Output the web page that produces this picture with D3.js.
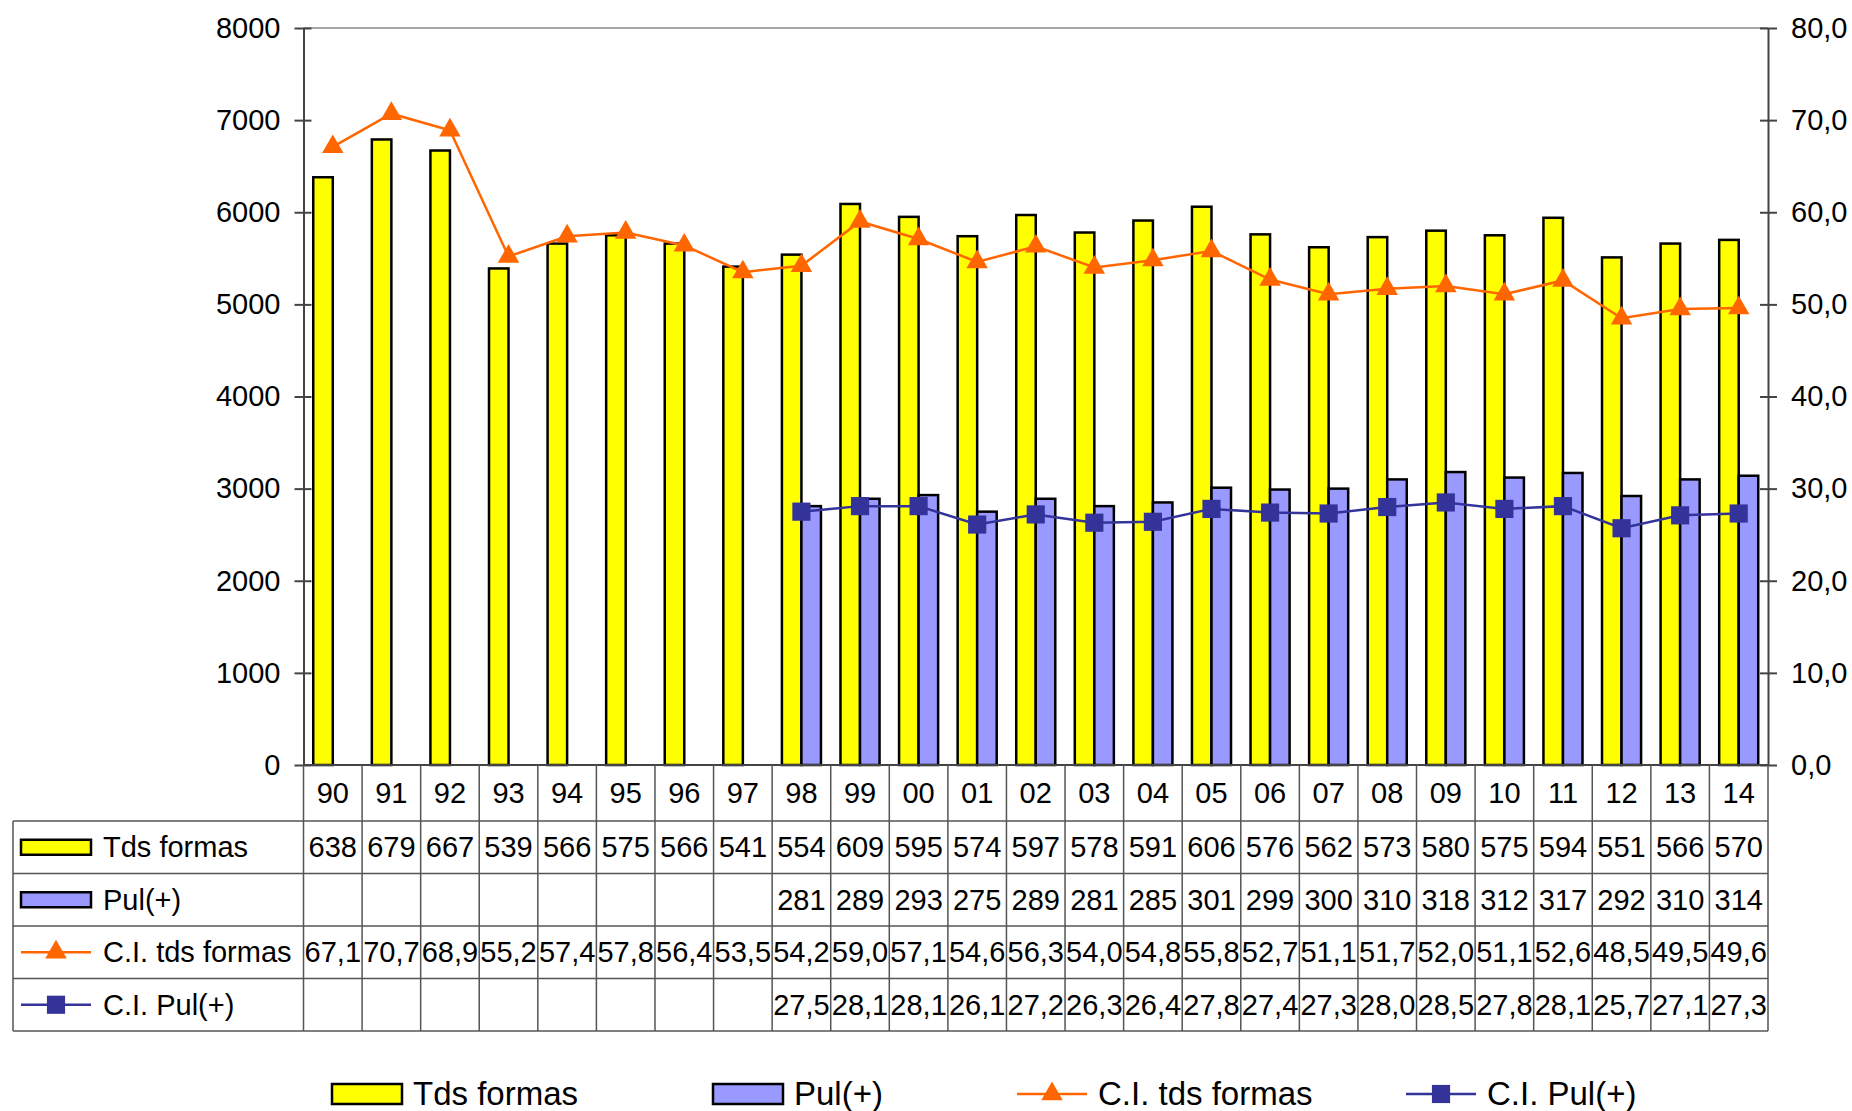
<!DOCTYPE html>
<html>
<head>
<meta charset="utf-8">
<script src="https://cdn.jsdelivr.net/npm/d3@7"></script>
<style>
  body { margin: 0; background: #fff; }
  text { font-family: "Liberation Sans", Arial, sans-serif; fill: #000; }
</style>
</head>
<body>
<div id="app"></div>
<script>
(function (d3) {
  'use strict'

  const years = ['90','91','92','93','94','95','96','97','98','99','00','01','02','03','04','05','06','07','08','09','10','11','12','13','14']

  // bar values (table shows the first 3 digits)
  const tdsFormas = [6380,6790,6670,5390,5660,5750,5660,5410,5540,6090,5950,5740,5970,5780,5910,6060,5760,5620,5730,5800,5750,5940,5510,5660,5700]
  const pul = [null,null,null,null,null,null,null,null,2810,2890,2930,2750,2890,2810,2850,3010,2990,3000,3100,3180,3120,3170,2920,3100,3140]

  const ciTds = [67.1,70.7,68.9,55.2,57.4,57.8,56.4,53.5,54.2,59.0,57.1,54.6,56.3,54.0,54.8,55.8,52.7,51.1,51.7,52.0,51.1,52.6,48.5,49.5,49.6]
  const ciPul = [null,null,null,null,null,null,null,null,27.5,28.1,28.1,26.1,27.2,26.3,26.4,27.8,27.4,27.3,28.0,28.5,27.8,28.1,25.7,27.1,27.3]

  const leftTicks = [0,1000,2000,3000,4000,5000,6000,7000,8000]
  const rightTicks = [0,10,20,30,40,50,60,70,80]

  const W = 1852, H = 1111
  const left = 303.5, right = 1768, top = 28, zero = 765
  const tableLeft = 13, rowTop = 821, rowH = 52.5
  const fs = '29px'

  const yellow = '#ffff00', lilac = '#9999ff', orange = '#ff6600', navy = '#333399'
  const gridCol = '#555'

  const svg = d3.select('#app').append('svg')
    .attr('width', W)
    .attr('height', H)

  const x = d3.scaleBand().domain(years).range([left, right])
  const xs = d3.scaleBand().domain(['tds', 'pul']).range([0, x.bandwidth()]).paddingOuter(0.5)
  const yL = d3.scaleLinear().domain([0, 8000]).range([zero, top])
  const yR = d3.scaleLinear().domain([0, 80]).range([zero, top])
  const comma = v => d3.format('.1f')(v).replace('.', ',')

  // plot frame top
  svg.append('line')
    .attr('x1', left).attr('x2', right).attr('y1', top).attr('y2', top)
    .attr('stroke', '#888').attr('stroke-width', 1.5)

  // bars
  const bars = svg.append('g')
  bars.selectAll('rect.tds')
    .data(tdsFormas)
    .enter()
    .append('rect')
    .attr('x', (d, i) => x(years[i]) + xs('tds'))
    .attr('y', d => yL(d))
    .attr('width', xs.bandwidth())
    .attr('height', d => zero - yL(d))
    .attr('fill', yellow)
    .attr('stroke', '#000')
    .attr('stroke-width', 2.5)

  bars.selectAll('rect.pul')
    .data(pul.map((v, i) => ({v: v, i: i})).filter(d => d.v != null))
    .enter()
    .append('rect')
    .attr('x', d => x(years[d.i]) + xs('pul'))
    .attr('y', d => yL(d.v))
    .attr('width', xs.bandwidth())
    .attr('height', d => zero - yL(d.v))
    .attr('fill', lilac)
    .attr('stroke', '#000')
    .attr('stroke-width', 2.5)

  // axes
  const axL = svg.append('g')
    .attr('transform', 'translate(' + left + ',0)')
    .call(d3.axisLeft(yL).tickValues(leftTicks).tickFormat(d3.format('d')).tickSizeOuter(0).tickSizeInner(9).tickPadding(14))
  axL.selectAll('.tick line').attr('x1', 8)
  const axR = svg.append('g')
    .attr('transform', 'translate(' + right + ',0)')
    .call(d3.axisRight(yR).tickValues(rightTicks).tickFormat(comma).tickSizeOuter(0).tickSizeInner(9).tickPadding(14))
  axR.selectAll('.tick line').attr('x1', -8)
  svg.selectAll('.domain, .tick line').attr('stroke', '#444').attr('stroke-width', 2)
  svg.selectAll('.tick text').style('font-size', fs).style('font-family', '"Liberation Sans", Arial, sans-serif')

  // zero line
  svg.append('line')
    .attr('x1', left).attr('x2', right).attr('y1', zero).attr('y2', zero)
    .attr('stroke', '#444').attr('stroke-width', 2)

  // lines
  const triangle = d3.symbol().type(d3.symbolTriangle).size(200)
  const square = d3.symbol().type(d3.symbolSquare).size(330)

  const series = [
    {values: ciTds, color: orange, sym: triangle},
    {values: ciPul, color: navy, sym: square}
  ]
  series.forEach(s => {
    const pts = s.values.map((v, i) => ({v: v, i: i})).filter(d => d.v != null)
    const line = d3.line()
      .x(d => x(years[d.i]) + x.bandwidth() / 2)
      .y(d => yR(d.v))
    svg.append('path')
      .datum(pts)
      .attr('d', line)
      .attr('fill', 'none')
      .attr('stroke', s.color)
      .attr('stroke-width', 2.5)
    svg.append('g')
      .selectAll('path')
      .data(pts)
      .enter()
      .append('path')
      .attr('d', s.sym)
      .attr('transform', d => 'translate(' + (x(years[d.i]) + x.bandwidth() / 2) + ',' + yR(d.v) + ')')
      .attr('fill', s.color)
  })

  // data table
  const rows = [
    {name: 'Tds formas', kind: 'bar', color: yellow, cells: tdsFormas.map(v => String(v).slice(0, 3))},
    {name: 'Pul(+)', kind: 'bar', color: lilac, cells: pul.map(v => v == null ? '' : String(v).slice(0, 3))},
    {name: 'C.I. tds formas', kind: 'line', color: orange, sym: triangle, cells: ciTds.map(comma)},
    {name: 'C.I. Pul(+)', kind: 'line', color: navy, sym: square, cells: ciPul.map(v => v == null ? '' : comma(v))}
  ]
  const tableBottom = rowTop + rows.length * rowH
  const tbl = svg.append('g')

  // header (categories)
  tbl.selectAll('text.cat')
    .data(years)
    .enter()
    .append('text')
    .attr('x', d => x(d) + x.bandwidth() / 2)
    .attr('y', (zero + rowTop) / 2 + 10)
    .attr('text-anchor', 'middle')
    .style('font-size', fs)
    .text(d => d)

  // grid
  const vx = years.map(d => x(d)).concat([right])
  tbl.selectAll('line.v')
    .data(vx)
    .enter()
    .append('line')
    .attr('x1', d => d).attr('x2', d => d)
    .attr('y1', zero).attr('y2', tableBottom)
    .attr('stroke', gridCol).attr('stroke-width', 1.5)
  tbl.selectAll('line.h')
    .data(d3.range(rows.length + 1))
    .enter()
    .append('line')
    .attr('x1', tableLeft).attr('x2', right)
    .attr('y1', d => rowTop + d * rowH).attr('y2', d => rowTop + d * rowH)
    .attr('stroke', gridCol).attr('stroke-width', 1.5)
  tbl.append('line')
    .attr('x1', tableLeft).attr('x2', tableLeft)
    .attr('y1', rowTop).attr('y2', tableBottom)
    .attr('stroke', gridCol).attr('stroke-width', 1.5)

  const drawKey = function (g, r, cx, cy, w, h) {
    if (r.kind === 'bar') {
      g.append('rect')
        .attr('x', cx - w / 2).attr('y', cy - h / 2)
        .attr('width', w).attr('height', h)
        .attr('fill', r.color).attr('stroke', '#000').attr('stroke-width', 2.5)
    } else {
      g.append('line')
        .attr('x1', cx - w / 2).attr('x2', cx + w / 2)
        .attr('y1', cy).attr('y2', cy)
        .attr('stroke', r.color).attr('stroke-width', 2.5)
      g.append('path')
        .attr('d', r.sym)
        .attr('transform', 'translate(' + cx + ',' + cy + ')')
        .attr('fill', r.color)
    }
  }

  rows.forEach((r, ri) => {
    const cy = rowTop + ri * rowH + rowH / 2
    drawKey(tbl, r, 56, cy, 70, 15)
    tbl.append('text')
      .attr('x', 103).attr('y', cy + 10)
      .style('font-size', fs)
      .text(r.name)
    tbl.append('g')
      .selectAll('text')
      .data(r.cells)
      .enter()
      .append('text')
      .attr('x', (d, i) => x(years[i]) + x.bandwidth() / 2)
      .attr('y', cy + 10)
      .attr('text-anchor', 'middle')
      .style('font-size', fs)
      .text(d => d)
  })

  // bottom legend
  const legX = [367, 748, 1052, 1441]
  const leg = svg.append('g')
  rows.forEach((r, i) => {
    drawKey(leg, r, legX[i], 1094, 70, 20)
    leg.append('text')
      .attr('x', legX[i] + 46).attr('y', 1105)
      .style('font-size', '33px')
      .text(r.name)
  })

}(d3))
</script>
</body>
</html>
